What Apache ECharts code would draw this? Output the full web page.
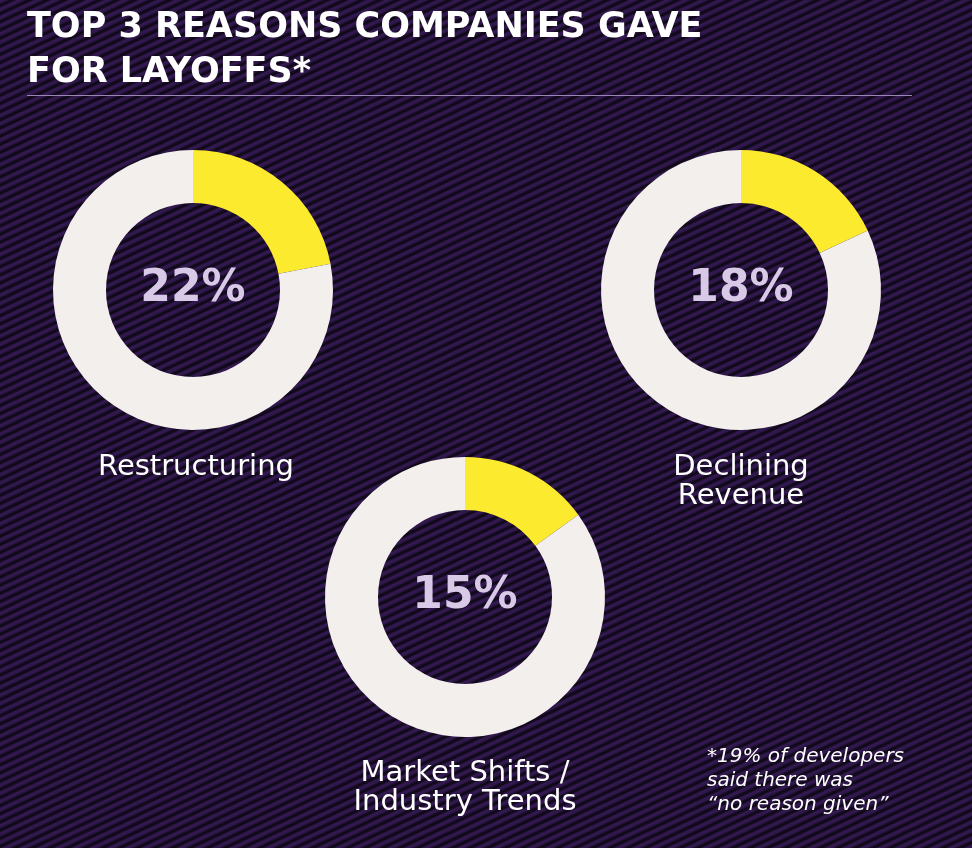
<!DOCTYPE html>
<html>
<head>
<meta charset="utf-8">
<script src="https://cdn.jsdelivr.net/npm/echarts@6/dist/echarts.min.js"></script>
<style>
  html, body { margin: 0; padding: 0; }
  #wrap {
    width: 972px; height: 848px; position: relative; overflow: hidden;
    background-color: #1e1030;
    background-image: repeating-linear-gradient(155deg, #341a52 0px, #2e174a 2.5px, #150b20 4px, #0e0716 5.5px, #2a1542 7.4px);
  }
  #chart { width: 972px; height: 848px; position: absolute; left: 0; top: 0; }
</style>
</head>
<body>
<div id="wrap"><div id="chart"></div></div>
<script>
const titleLines = ['TOP 3 REASONS COMPANIES GAVE', 'FOR LAYOFFS*'];
const reasons = ['Restructuring', 'Declining\nRevenue', 'Market Shifts /\nIndustry Trends'];
const percents = [22, 18, 15];
const footnote = ['*19% of developers', 'said there was', '\u201cno reason given\u201d'];

const centers = [[193, 290], [741, 290], [465, 597]];
const labelPos = [[196, 468], [741, 468], [465, 774]];

const chart = echarts.init(document.getElementById('chart'), null, { renderer: 'canvas' });

const series = percents.map((p, i) => ({
  type: 'pie',
  center: centers[i],
  radius: [87, 140],
  startAngle: 90,
  clockwise: true,
  silent: true,
  animation: false,
  avoidLabelOverlap: false,
  labelLine: { show: false },
  emphasis: { disabled: true },
  itemStyle: { borderWidth: 0 },
  data: [
    {
      value: p,
      itemStyle: { color: '#fcea2e' },
      label: {
        show: true, position: 'center', formatter: p + '%',
        fontFamily: 'DejaVu Sans', fontWeight: 'bold', fontSize: 44, color: '#d8c9e6'
      }
    },
    { value: 100 - p, itemStyle: { color: '#f3efec' }, label: { show: false } }
  ]
}));

const graphics = [];
titleLines.forEach((t, i) => {
  graphics.push({
    type: 'text', left: 27, top: 10 + i * 45,
    style: { text: t, fill: '#ffffff', font: 'bold 35px "DejaVu Sans"' }
  });
});
graphics.push({
  type: 'line', shape: { x1: 27, y1: 95.5, x2: 912, y2: 95.5 },
  style: { stroke: '#9a86b4', lineWidth: 1 }
});
reasons.forEach((r, i) => {
  graphics.push({
    type: 'text', x: labelPos[i][0], y: labelPos[i][1] - 15,
    style: {
      text: r, fill: '#ffffff', font: '29px "DejaVu Sans"',
      textAlign: 'center', textVerticalAlign: 'top', lineHeight: 29
    }
  });
});
footnote.forEach((f, i) => {
  graphics.push({
    type: 'text', x: 707, y: 757 + i * 24,
    style: {
      text: f, fill: '#ffffff', font: 'italic 20px "DejaVu Sans"',
      textAlign: 'left', textVerticalAlign: 'middle'
    }
  });
});

chart.setOption({
  backgroundColor: 'transparent',
  animation: false,
  series: series,
  graphic: graphics
});
</script>
</body>
</html>
